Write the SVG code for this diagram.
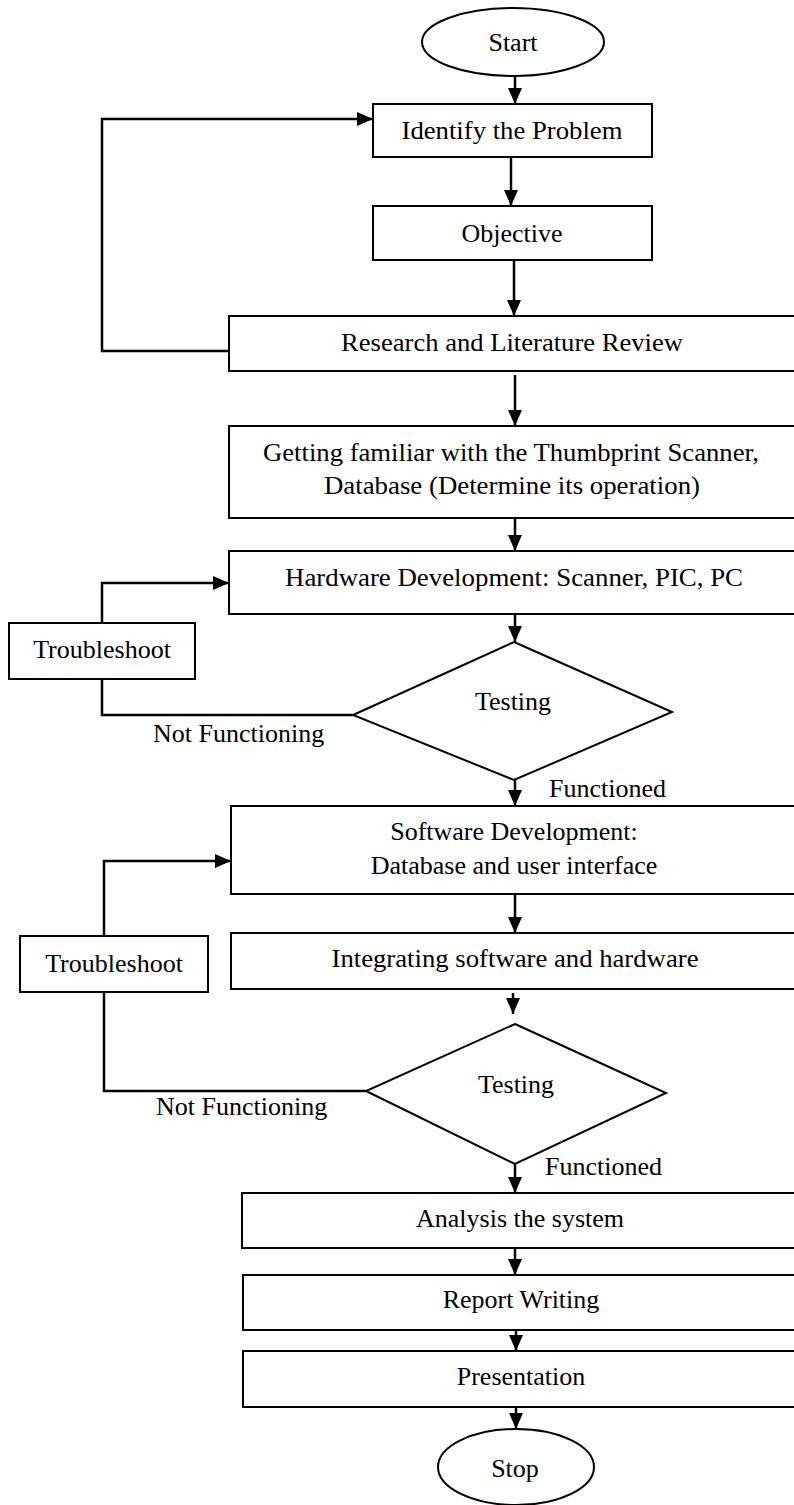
<svg xmlns="http://www.w3.org/2000/svg" width="794" height="1505" viewBox="0 0 794 1505">
  <style>
    .box { fill: #fff; stroke: #000; stroke-width: 2; }
    .wire { fill: none; stroke: #000; stroke-width: 2.5; }
    .lbl { font-family: "Liberation Serif", "Times New Roman", serif; font-size: 26px; fill: #000; text-anchor: middle; }
    .note { font-family: "Liberation Serif", "Times New Roman", serif; font-size: 26px; fill: #000; }
  </style>
  <defs>
    <marker id="arrow" markerUnits="userSpaceOnUse" markerWidth="16" markerHeight="14" refX="16" refY="7" orient="auto">
      <path d="M0,0 L16,7 L0,14 Z" fill="#000"/>
    </marker>
  </defs>
  <rect width="794" height="1505" fill="#fff"/>

  <!-- connectors -->
  <g id="connectors">
    <line class="wire" x1="515" y1="76" x2="515" y2="104" marker-end="url(#arrow)"/>
    <line class="wire" x1="511" y1="157" x2="511" y2="206" marker-end="url(#arrow)"/>
    <line class="wire" x1="514" y1="260" x2="514" y2="316" marker-end="url(#arrow)"/>
    <path class="wire" d="M229,351 H102 V119 H373" marker-end="url(#arrow)"/>
    <line class="wire" x1="515" y1="375" x2="515" y2="426" marker-end="url(#arrow)"/>
    <line class="wire" x1="515" y1="518" x2="515" y2="551" marker-end="url(#arrow)"/>
    <line class="wire" x1="515" y1="614" x2="515" y2="642" marker-end="url(#arrow)"/>
    <path class="wire" d="M353,715 H102 V679"/>
    <path class="wire" d="M102,623 V583 H229" marker-end="url(#arrow)"/>
    <line class="wire" x1="515" y1="780" x2="515" y2="806" marker-end="url(#arrow)"/>
    <line class="wire" x1="515" y1="894" x2="515" y2="933" marker-end="url(#arrow)"/>
    <path class="wire" d="M104,936 V861 H231" marker-end="url(#arrow)"/>
    <path class="wire" d="M366,1091 H104 V992"/>
    <line class="wire" x1="513" y1="993" x2="513" y2="1014" marker-end="url(#arrow)"/>
    <line class="wire" x1="515" y1="1164" x2="515" y2="1193" marker-end="url(#arrow)"/>
    <line class="wire" x1="515" y1="1248" x2="515" y2="1275" marker-end="url(#arrow)"/>
    <line class="wire" x1="516" y1="1330" x2="516" y2="1351" marker-end="url(#arrow)"/>
    <line class="wire" x1="516" y1="1407" x2="516" y2="1429" marker-end="url(#arrow)"/>
  </g>

  <g id="start">
    <ellipse class="box" cx="513" cy="42" rx="91" ry="34"/>
    <text class="lbl" x="513" y="51">Start</text>
  </g>
  <g id="identify">
    <rect class="box" x="373" y="104" width="279" height="53"/>
    <text class="lbl" x="512" y="139" textLength="221" lengthAdjust="spacingAndGlyphs">Identify the Problem</text>
  </g>
  <g id="objective">
    <rect class="box" x="373" y="206" width="279" height="54"/>
    <text class="lbl" x="512" y="242">Objective</text>
  </g>
  <g id="research">
    <rect class="box" x="229" y="316" width="580" height="55"/>
    <text class="lbl" x="512" y="351" textLength="342" lengthAdjust="spacingAndGlyphs">Research and Literature Review</text>
  </g>
  <g id="familiar">
    <rect class="box" x="229" y="426" width="580" height="92"/>
    <text class="lbl" x="511" y="461" textLength="496" lengthAdjust="spacingAndGlyphs">Getting familiar with the Thumbprint Scanner,</text>
    <text class="lbl" x="512" y="494" textLength="376" lengthAdjust="spacingAndGlyphs">Database (Determine its operation)</text>
  </g>
  <g id="hardware">
    <rect class="box" x="229" y="551" width="580" height="63"/>
    <text class="lbl" x="514" y="586" textLength="458" lengthAdjust="spacingAndGlyphs">Hardware Development: Scanner, PIC, PC</text>
  </g>
  <g id="troubleshoot1">
    <rect class="box" x="9" y="623" width="186" height="56"/>
    <text class="lbl" x="102" y="658">Troubleshoot</text>
  </g>
  <g id="testing1">
    <polygon class="box" points="514,642 672,712 514,780 353,715"/>
    <text class="lbl" x="513" y="710">Testing</text>
    <text class="note" x="153" y="742">Not Functioning</text>
    <text class="note" x="549" y="797">Functioned</text>
  </g>
  <g id="software">
    <rect class="box" x="231" y="806" width="580" height="88"/>
    <text class="lbl" x="514" y="840">Software Development:</text>
    <text class="lbl" x="514" y="874">Database and user interface</text>
  </g>
  <g id="troubleshoot2">
    <rect class="box" x="20" y="936" width="188" height="56"/>
    <text class="lbl" x="114" y="972">Troubleshoot</text>
  </g>
  <g id="integrating">
    <rect class="box" x="231" y="933" width="580" height="56"/>
    <text class="lbl" x="515" y="967" textLength="367" lengthAdjust="spacingAndGlyphs">Integrating software and hardware</text>
  </g>
  <g id="testing2">
    <polygon class="box" points="515,1024 666,1093 515,1164 366,1091"/>
    <text class="lbl" x="516" y="1093">Testing</text>
    <text class="note" x="156" y="1115">Not Functioning</text>
    <text class="note" x="545" y="1175">Functioned</text>
  </g>
  <g id="analysis">
    <rect class="box" x="242" y="1193" width="570" height="55"/>
    <text class="lbl" x="520" y="1227">Analysis the system</text>
  </g>
  <g id="report">
    <rect class="box" x="243" y="1275" width="570" height="55"/>
    <text class="lbl" x="521" y="1308">Report Writing</text>
  </g>
  <g id="presentation">
    <rect class="box" x="243" y="1351" width="570" height="56"/>
    <text class="lbl" x="521" y="1385">Presentation</text>
  </g>
  <g id="stop">
    <ellipse class="box" cx="516" cy="1467" rx="78" ry="38"/>
    <text class="lbl" x="515" y="1477">Stop</text>
  </g>
</svg>
